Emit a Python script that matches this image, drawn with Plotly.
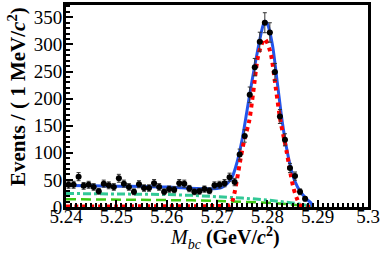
import numpy as np
import plotly.graph_objects as go

# ---- data (1 MeV bins from 5.240 to 5.300 GeV/c^2) ----
bin_lo = 5.240
bin_w = 0.001
counts = [41, 41, 56, 39, 41, 37, 29, 43, 40, 37,
          53, 43, 37, 28, 42, 35, 35, 44, 37, 28,
          33, 32, 44, 43, 34, 28, 29, 33, 30, 40,
          41, 44, 55, 46, 97, 131, 207, 258, 305, 340,
          322, 249, 167, 124, 72, 57, 28, 15, 0, 0,
          0, 0, 0, 0, 0, 0, 0, 0, 0, 0]

# total fit (blue)
fit_x = [5.240, 5.245, 5.250, 5.255, 5.260, 5.263, 5.266, 5.268, 5.270, 5.271,
         5.272, 5.273, 5.274, 5.275, 5.276, 5.277, 5.278, 5.279, 5.2795, 5.280,
         5.281, 5.282, 5.283, 5.284, 5.285, 5.286, 5.287, 5.288, 5.2887, 5.289]
fit_y = [39.5, 39, 38.5, 38, 37, 35.5, 34, 33.5, 34, 36,
         43, 55, 83, 125, 180, 235, 285, 330, 343, 338,
         300, 228, 155, 100, 60, 37, 23, 13, 7, 1]

# signal (red dotted)
sig_x = [5.240, 5.250, 5.260, 5.270, 5.272, 5.2727, 5.2731, 5.2735, 5.274, 5.2747,
         5.2754, 5.2764, 5.2772, 5.2783, 5.2795, 5.2806, 5.2817, 5.2826, 5.2833, 5.2839,
         5.2846, 5.2852, 5.2859, 5.2866, 5.289]
sig_y = [1, 1.1, 1.3, 1.8, 2.5, 5, 12, 27, 52, 90,
         123, 159, 212, 284, 310, 286, 218, 159, 127, 99,
         62, 35, 15, 3, 0.5]

# background 1 (teal dash-dot)
bkg1_x = [5.240, 5.250, 5.260, 5.265, 5.270, 5.275, 5.280, 5.283, 5.285, 5.287, 5.288, 5.2886, 5.289]
bkg1_y = [25, 24.5, 23, 21.5, 19.5, 16.5, 13, 10, 7.5, 4.5, 3, 1.5, 0]

# background 2 (green dashed)
bkg2_x = [5.240, 5.250, 5.260, 5.265, 5.270, 5.275, 5.280, 5.283, 5.285, 5.287, 5.288, 5.2886, 5.289]
bkg2_y = [14.5, 14, 13, 12.3, 11.3, 9.8, 7.8, 6, 4.5, 2.8, 1.8, 0.8, 0]

x_ticks = [5.24, 5.25, 5.26, 5.27, 5.28, 5.29, 5.30]
x_tick_text = ["5.24", "5.25", "5.26", "5.27", "5.28", "5.29", "5.3"]
y_ticks = [0, 50, 100, 150, 200, 250, 300, 350]

# ---- build ----
centers = [bin_lo + (i + 0.5) * bin_w for i in range(len(counts))]
px = [c for c, n in zip(centers, counts) if n > 0]
py = [n for n in counts if n > 0]
pe = [float(np.sqrt(n)) for n in py]

fig = go.Figure()

fig.add_trace(go.Scatter(x=bkg2_x, y=bkg2_y, mode="lines",
                         line=dict(color="rgb(60,200,20)", width=2.5, dash="10px,5px"),
                         hoverinfo="skip"))
fig.add_trace(go.Scatter(x=bkg1_x, y=bkg1_y, mode="lines",
                         line=dict(color="rgb(50,200,150)", width=3, dash="8px,3px,3px,3px"),
                         hoverinfo="skip"))
fig.add_trace(go.Scatter(x=fit_x, y=fit_y, mode="lines",
                         line=dict(color="rgb(35,85,235)", width=3, shape="spline", smoothing=0.8),
                         hoverinfo="skip"))
fig.add_trace(go.Scatter(x=sig_x, y=sig_y, mode="lines",
                         line=dict(color="rgb(255,0,0)", width=4, dash="dot", shape="spline", smoothing=0.8),
                         hoverinfo="skip"))
fig.add_trace(go.Scatter(x=px, y=py, mode="markers",
                         marker=dict(color="black", size=6, symbol="circle"),
                         error_y=dict(type="data", array=pe, visible=True, color="#333333",
                                      thickness=1, width=2),
                         error_x=dict(type="constant", value=bin_w / 2, visible=True,
                                      color="black", thickness=1.5, width=0),
                         hoverinfo="skip"))

font_family = "Liberation Serif"

fig.update_layout(
    width=382, height=261,
    margin=dict(l=66, r=12, t=2, b=54),
    paper_bgcolor="white", plot_bgcolor="white",
    showlegend=False,
    font=dict(family=font_family, color="black", size=18),
    xaxis=dict(range=[5.24, 5.30], tickvals=x_ticks, ticktext=x_tick_text,
               ticks="inside", ticklen=7, tickwidth=1.5, tickcolor="black",
               minor=dict(ticks="inside", ticklen=4, dtick=0.001, tick0=5.24,
                          tickwidth=1.5, tickcolor="black"),
               showline=True, linecolor="black", linewidth=3, mirror=True,
               showgrid=False, zeroline=False,
               tickfont=dict(family=font_family, size=19), ticklabelstandoff=-10),
    yaxis=dict(range=[0, 372.7], tickvals=y_ticks,
               ticks="inside", ticklen=7, tickwidth=1.5, tickcolor="black",
               minor=dict(ticks="inside", ticklen=4, dtick=10, tick0=0,
                          tickwidth=1.5, tickcolor="black"),
               showline=True, linecolor="black", linewidth=3, mirror=True,
               showgrid=False, zeroline=False,
               tickfont=dict(family=font_family, size=19), ticklabelstandoff=-3),
)

fig.add_annotation(xref="paper", yref="paper", x=0.528, y=-0.075,
                   xanchor="center", yanchor="top", showarrow=False,
                   text="<i>M</i><sub><i>bc</i></sub> <b>(GeV/<i>c</i><sup>2</sup>)</b>",
                   font=dict(family=font_family, size=20, color="black"))
fig.add_annotation(xref="paper", yref="paper", x=-0.161, y=0.546,
                   xanchor="center", yanchor="middle", showarrow=False, textangle=-90,
                   text="<b>Events / ( 1 MeV/<i>c</i><sup>2</sup>)</b>",
                   font=dict(family=font_family, size=21, color="black"))

fig.write_html("out.html", config={"displayModeBar": False},
               post_script="document.body.style.margin='0';document.body.style.padding='0';")
